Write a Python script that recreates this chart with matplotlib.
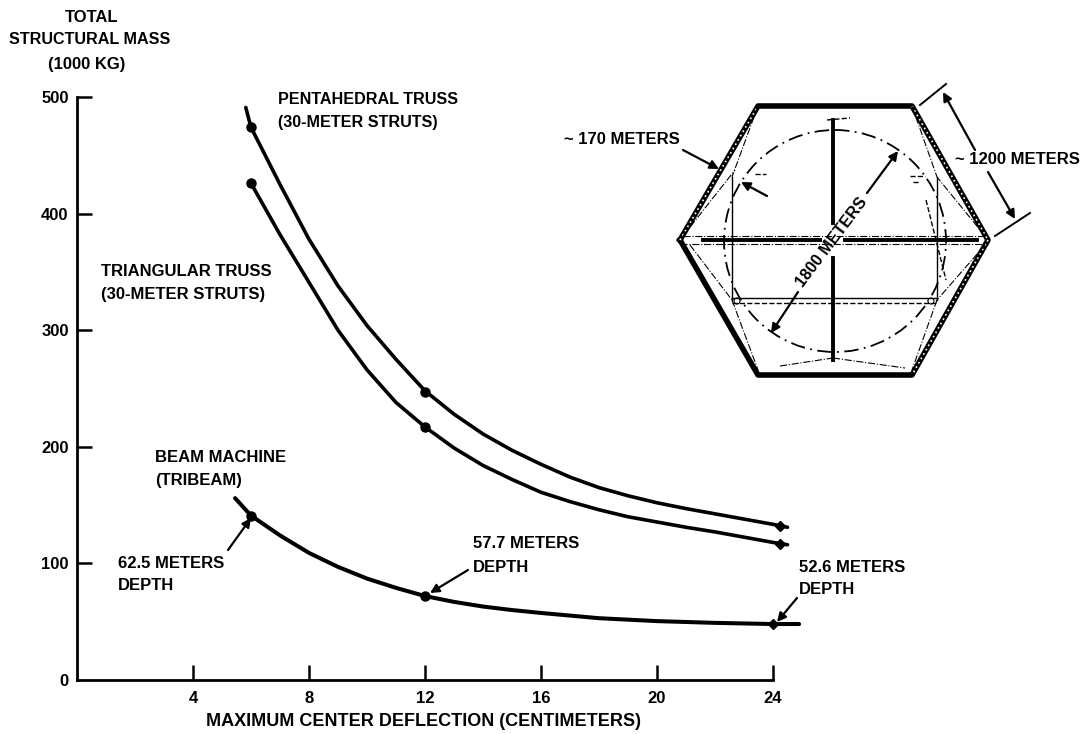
import matplotlib
matplotlib.use('Agg')
import matplotlib.pyplot as plt
from matplotlib.patches import Circle

plt.rcParams['font.family'] = ['Liberation Sans', 'DejaVu Sans']
plt.rcParams['font.weight'] = 'bold'

# curves: deflection (cm) vs mass (1000 kg)
penta_x = [5.82, 6, 7, 8, 9, 10, 11, 12, 13, 14, 15, 16, 17, 18, 19, 20, 21, 22, 23, 24, 24.5]
penta_y = [491, 474, 425, 378, 338, 304, 275, 248, 228, 211, 197, 185, 174, 165, 158, 152, 147, 142.5, 138, 133.5, 131]
tri_x = [6, 7, 8, 9, 10, 11, 12, 13, 14, 15, 16, 17, 18, 19, 20, 21, 22, 23, 24, 24.5]
tri_y = [426, 382, 341, 300, 266, 238, 217, 199, 184, 172, 161, 153, 146, 140, 135.5, 131, 127, 122.5, 118, 116]
beam_x = [5.45, 6, 7, 8, 9, 10, 11, 12, 13, 14, 15, 16, 18, 20, 22, 24, 24.9]
beam_y = [156, 141, 124, 109, 97, 87, 79, 72, 67, 63, 60, 57.5, 53, 50.5, 49, 48, 48]

# round blobs on the curves, diamonds at the far end
dot_x = [6, 12, 6, 12, 6, 12]
dot_y = [474, 247, 426, 217, 141, 72]
end_x = [24.25, 24.25, 24]
end_y = [132, 117, 48]

x_ticks = [4, 8, 12, 16, 20, 24]
y_ticks = [0, 100, 200, 300, 400, 500]

# hexagon drawing, in image pixels
hex_x = [680, 758, 912, 988, 912, 758, 680]
hex_y = [240, 106, 106, 240, 375, 375, 240]
strut_lines = [
    ([833, 833], [120, 223]), ([833, 833], [258, 360]),
    ([703, 820], [240, 240]), ([845, 977], [240, 240]),
]
frame_lines = [
    ([732, 732], [177, 300]), ([937, 937], [177, 300]),
    ([732, 937], [298, 298]),
]
thin_lines = [
    ([683, 985], [236, 236]), ([680, 988], [244, 244]),
    ([758, 732], [106, 177]), ([912, 937], [106, 177]),
    ([683, 735], [236, 170]), ([985, 937], [236, 177]),
    ([690, 732], [245, 300]), ([732, 758], [300, 370]),
    ([985, 937], [245, 300]), ([937, 912], [300, 370]),
    ([780, 833], [366, 358]), ([833, 905], [358, 368]),
]
dash_lines = [
    ([732, 937], [303, 303]), ([827, 850], [120, 118]),
    ([755, 766], [174, 174]), ([910, 925], [176, 176]),
    ([913, 920], [182, 182]), ([926, 946], [200, 280]),
]

fig = plt.figure(figsize=(10.89, 7.34), dpi=100)
ax = fig.add_axes([77 / 1089, 1 - 680 / 734, 725 / 1089, 583 / 734])
ax.set_xlim(0, 25)
ax.set_ylim(0, 500)

ax.plot(penta_x, penta_y, color='black', lw=2.6, clip_on=False, solid_capstyle='round')
ax.plot(tri_x, tri_y, color='black', lw=2.6, clip_on=False, solid_capstyle='round')
ax.plot(beam_x, beam_y, color='black', lw=2.9, clip_on=False, solid_capstyle='round')
ax.plot(dot_x, dot_y, 'o', color='black', ms=6.5, clip_on=False)
ax.plot(end_x, end_y, 'D', color='black', ms=5.5, clip_on=False)

for s in ['top', 'right']:
    ax.spines[s].set_visible(False)
for s in ['left', 'bottom']:
    ax.spines[s].set_linewidth(2)
ax.spines['bottom'].set_bounds(0, 24)
ax.set_xticks(x_ticks)
ax.set_yticks(y_ticks)
ax.tick_params(direction='in', length=11, width=1.8, labelsize=12)
ax.tick_params(axis='x', pad=8)
ax.tick_params(axis='y', pad=6)
# the 0 tick sits on the x axis already
ax.yaxis.get_major_ticks()[0].tick1line.set_visible(False)
ax.patch.set_visible(False)

# overlay in image pixels for the labels and the hexagon
ov = fig.add_axes([0, 0, 1, 1])
ov.set_xlim(0, 1089)
ov.set_ylim(734, 0)
ov.axis('off')


def label(x, y, s, ha='left', size=12):
    ov.text(x, y, s, ha=ha, va='center', fontsize=size)


def arrow(x0, y0, x1, y1):
    ov.annotate('', xy=(x1, y1), xytext=(x0, y0),
                arrowprops=dict(arrowstyle='-|>', color='black', lw=1.6,
                                mutation_scale=13, shrinkA=0, shrinkB=0))


label(92, 17, 'TOTAL', ha='center')
label(90, 40, 'STRUCTURAL MASS', ha='center', size=11.6)
label(87, 64, '(1000 KG)', ha='center')
label(423, 722, 'MAXIMUM CENTER DEFLECTION (CENTIMETERS)', ha='center', size=13)
label(278, 99, 'PENTAHEDRAL TRUSS', size=11.6)
label(278, 122, '(30-METER STRUTS)', size=11.6)
label(101, 272, 'TRIANGULAR TRUSS')
label(101, 295, '(30-METER STRUTS)')
label(155, 458, 'BEAM MACHINE')
label(155, 481, '(TRIBEAM)')
label(118, 563, '62.5 METERS')
label(118, 586, 'DEPTH')
label(473, 543, '57.7 METERS')
label(473, 568, 'DEPTH')
label(799, 567, '52.6 METERS')
label(799, 590, 'DEPTH')
label(680, 140, '~ 170 METERS', ha='right')
label(955, 159, '~ 1200 METERS')
ov.text(832, 242, '1800 METERS', rotation=53, ha='center', va='center', fontsize=11.6,
        rotation_mode='anchor')

arrow(228, 550, 251, 518)
arrow(468, 570, 430, 593)
arrow(797, 598, 777, 622)
arrow(683, 150, 719, 169)
arrow(767, 196, 741, 182)
arrow(867, 193, 898, 151)
arrow(798, 292, 771, 333)
arrow(975, 150, 943, 92)
arrow(988, 172, 1015, 219)

# hexagon outline, three sides carry a dotted inner edge
ov.plot(hex_x, hex_y, color='black', lw=4, solid_joinstyle='round')
for i in [0, 2, 3]:
    ov.plot(hex_x[i:i + 2], hex_y[i:i + 2], color='white', lw=1.2, ls=(0, (1, 2)))
for xs, ys in strut_lines:
    ov.plot(xs, ys, color='black', lw=2.8)
for xs, ys in frame_lines:
    ov.plot(xs, ys, color='black', lw=1.0)
for xs, ys in thin_lines:
    ov.plot(xs, ys, color='black', lw=0.8, ls='-.')
for xs, ys in dash_lines:
    ov.plot(xs, ys, color='black', lw=1.0, ls='--')
ov.add_patch(Circle((835, 241), 111, fill=False, color='black', lw=1.3, ls=(0, (8, 3, 1, 3))))
ov.add_patch(Circle((737, 301), 3, fill=True, fc='white', ec='black', lw=0.8))
ov.add_patch(Circle((931, 301), 3, fill=True, fc='white', ec='black', lw=0.8))
# dimension extension lines for the 1200 m side
ov.plot([920, 946], [105, 84], color='black', lw=1.4)
ov.plot([995, 1030], [236, 213], color='black', lw=1.4)

fig.savefig('out.png', dpi=100)
